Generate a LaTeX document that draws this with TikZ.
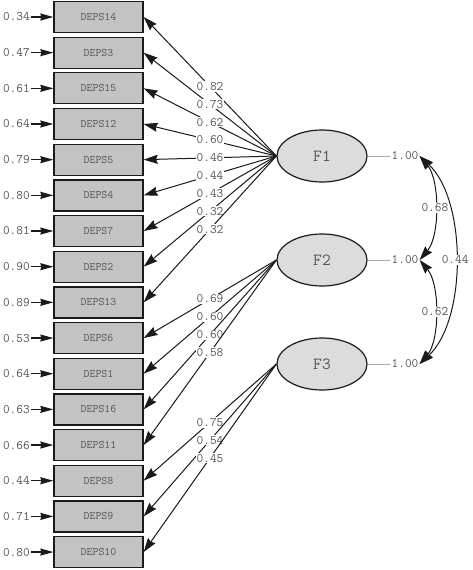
\documentclass[tikz,border=0pt]{standalone}
\usetikzlibrary{arrows.meta,shapes.geometric}
\definecolor{boxfill}{HTML}{C3C3C3}
\definecolor{ellfill}{HTML}{DCDCDC}
\definecolor{txt}{HTML}{555555}
\definecolor{ln}{HTML}{1A1A1A}
\definecolor{thin}{HTML}{AAAAAA}
\begin{document}
\begin{tikzpicture}[x=1pt,y=-1pt,
  obs/.style={draw=ln,line width=1.3pt,fill=boxfill,minimum width=89pt,minimum height=31pt,inner sep=0pt,font=\ttfamily\fontsize{11.5}{11.5}\selectfont,text=txt},
  lat/.style={ellipse,draw=ln,line width=1.2pt,fill=ellfill,minimum width=90pt,minimum height=52pt,inner sep=0pt,font=\ttfamily\fontsize{17}{17}\selectfont,text=txt},
  num/.style={font=\ttfamily\fontsize{13}{13}\selectfont,text=txt,inner sep=1pt},
  lab/.style={num,fill=white},
  load/.style={draw=ln,line width=1pt,-{Stealth[length=14pt,width=9pt,inset=1.5pt]}},
  err/.style={draw=ln,line width=1.2pt,-{Stealth[length=13pt,width=7pt,inset=1pt]}},
  cov/.style={draw=ln,line width=1pt,{Stealth[length=14pt,width=9pt,inset=1.5pt]}-{Stealth[length=14pt,width=9pt,inset=1.5pt]}},
  varline/.style={draw=thin,line width=1pt}]
\useasboundingbox[fill=white] (0,0) rectangle (472,570);
% observed variables
\foreach \n [count=\i] in {DEPS14,DEPS3,DEPS15,DEPS12,DEPS5,DEPS4,DEPS7,DEPS2,DEPS13,DEPS6,DEPS1,DEPS16,DEPS11,DEPS8,DEPS9,DEPS10}
  \node[obs] (b\i) at (98.5,{17+(\i-1)*35.67}) {\n};
% error terms
\foreach \v [count=\i] in {0.34,0.47,0.61,0.64,0.79,0.80,0.81,0.90,0.89,0.53,0.64,0.63,0.66,0.44,0.71,0.80}{
  \node[num,anchor=east] (e\i) at (31,{17+(\i-1)*35.67}) {\v};
  \draw[err] (e\i) -- (b\i);
}
% latent variables
\node[lat] (F1) at (322,156) {F1};
\node[lat] (F2) at (322,260) {F2};
\node[lat] (F3) at (322,364) {F3};
% loadings
\foreach \v/\b in {0.82/1,0.73/2,0.62/3,0.60/4,0.46/5,0.44/6,0.43/7,0.32/8,0.32/9}
  \draw[load] (F1.west) -- node[lab,pos=0.5]{\v} (b\b.east);
\foreach \v/\b in {0.69/10,0.60/11,0.60/12,0.58/13}
  \draw[load] (F2.west) -- node[lab,pos=0.5]{\v} (b\b.east);
\foreach \v/\b in {0.75/14,0.54/15,0.45/16}
  \draw[load] (F3.west) -- node[lab,pos=0.5]{\v} (b\b.east);
% variances
\node[num] (v1) at (405,156) {1.00};
\node[num] (v2) at (405,260) {1.00};
\node[num] (v3) at (405,364) {1.00};
\draw[varline] (F1.east) -- (v1.west);
\draw[varline] (F2.east) -- (v2.west);
\draw[varline] (F3.east) -- (v3.west);
% covariances
\draw[cov] (v1.east) .. controls (467,200) and (467,320) .. (v3.east) node[lab,pos=0.5]{0.44};
\draw[cov] (v1.east) .. controls (440,180) and (440,236) .. (v2.east) node[lab,pos=0.5]{0.68};
\draw[cov] (v2.east) .. controls (440,284) and (440,340) .. (v3.east) node[lab,pos=0.5]{0.62};
\end{tikzpicture}
\end{document}
